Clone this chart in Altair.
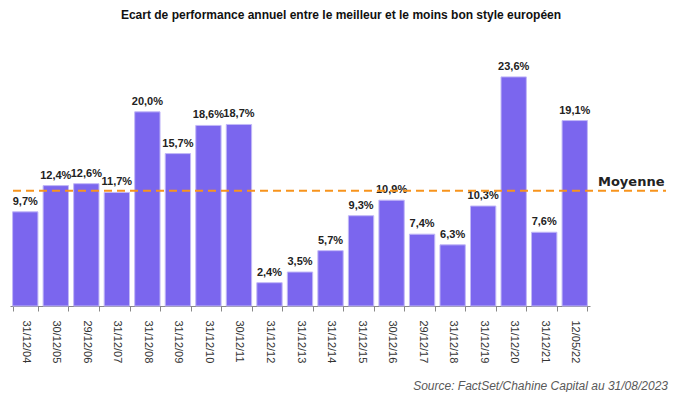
import altair as alt
import pandas as pd

dates = ["31/12/04", "30/12/05", "29/12/06", "31/12/07", "31/12/08", "31/12/09",
         "31/12/10", "30/12/11", "31/12/12", "31/12/13", "31/12/14", "31/12/15",
         "30/12/16", "29/12/17", "31/12/18", "31/12/19", "31/12/20", "31/12/21",
         "12/05/22"]
values = [9.7, 12.4, 12.6, 11.7, 20.0, 15.7, 18.6, 18.7, 2.4, 3.5, 5.7, 9.3,
          10.9, 7.4, 6.3, 10.3, 23.6, 7.6, 19.1]
labels = [f"{v:.1f}".replace(".", ",") + "%" for v in values]
mean_text = ["Moyenne"]
title_text = ["Ecart de performance annuel entre le meilleur et le moins bon style européen"]
source_text = ["Source: FactSet/Chahine Capital au 31/08/2023"]

df = pd.DataFrame({"date": dates, "value": values, "label": labels})
mean_val = sum(values) / len(values)

W, H = 580, 266

x = alt.X("date:N", sort=dates, title=None,
          scale=alt.Scale(paddingInner=0.17, paddingOuter=0.085),
          axis=alt.Axis(labelAngle=90, labelAlign="left", labelBaseline="middle",
                        tickBand="extent", tickSize=5, tickColor="#888888",
                        domainColor="#888888", labelColor="#333333",
                        labelFont="Liberation Sans", labelFontSize=11,
                        labelPadding=9))
y = alt.Y("value:Q", scale=alt.Scale(domain=[0, 27.4], nice=False), axis=None)

base = alt.Chart(df)
bars = base.mark_bar(color="#7B66EE", stroke="#C2B8F7", strokeWidth=1).encode(x=x, y=y)
vals = base.mark_text(font="Liberation Sans", fontWeight="bold", fontSize=11,
                      color="#222222", baseline="alphabetic", dy=-7).encode(
    x=alt.X("date:N", sort=dates), y="value:Q", text="label:N")

rule = alt.Chart(pd.DataFrame({"m": [mean_val]})).mark_rule(
    color="#F7941D", strokeWidth=2, strokeDash=[8, 5]).encode(
    y="m:Q", x=alt.value(-10), x2=alt.value(656))

moy = alt.Chart(pd.DataFrame({"t": mean_text, "m": [mean_val]})).mark_text(
    font="DejaVu Sans", fontWeight="bold", fontSize=13, color="#222222",
    align="left", baseline="middle", dy=-9).encode(
    text="t:N", y="m:Q", x=alt.value(588))

title = alt.Chart(pd.DataFrame({"t": title_text})).mark_text(
    font="Liberation Sans", fontWeight="bold", fontSize=12, color="#111111",
    align="center", baseline="middle").encode(
    text="t:N", x=alt.value(331), y=alt.value(-25))

source = alt.Chart(pd.DataFrame({"t": source_text})).mark_text(
    font="Liberation Sans", fontStyle="italic", fontSize=12, color="#595959",
    align="right", baseline="alphabetic").encode(
    text="t:N", x=alt.value(658), y=alt.value(350))

chart = alt.layer(bars, vals, rule, moy, title, source).properties(
    width=W, height=H,
    autosize=alt.AutoSizeParams(type="none"),
    padding={"left": 2, "top": 32, "right": 80, "bottom": 86},
).configure_view(strokeWidth=0)

chart.save("out.html", embed_options={"renderer": "svg", "actions": False})
